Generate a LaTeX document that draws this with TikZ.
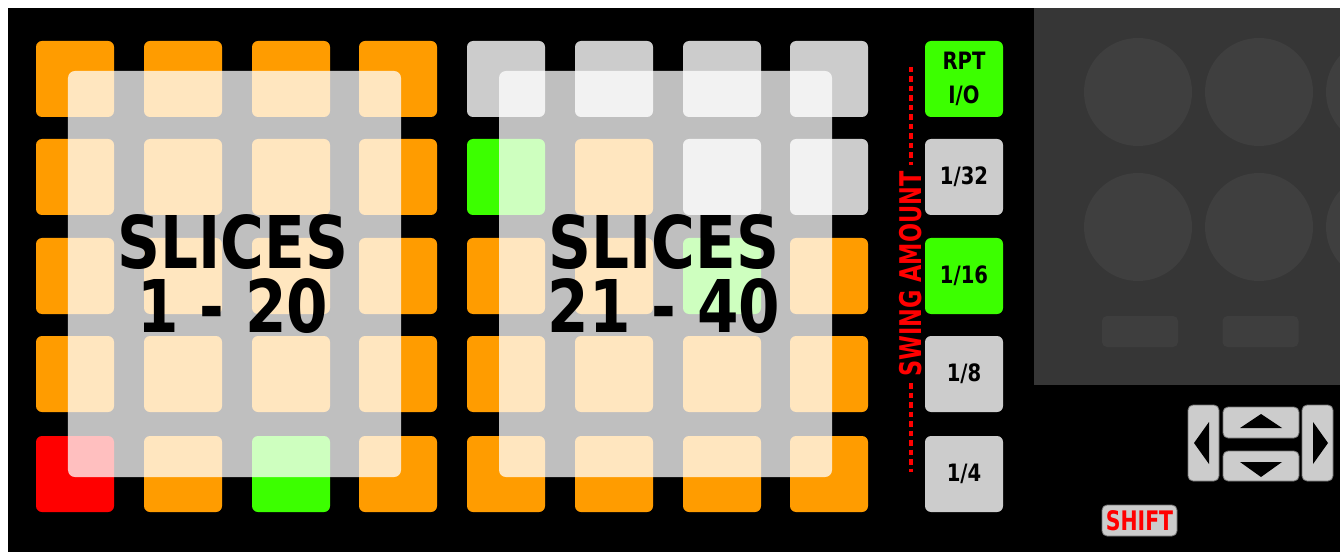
\documentclass[tikz,border=0pt]{standalone}
\usepackage{fontspec}
\newfontfamily\slicesfont{DejaVu Sans}[FakeStretch=0.82]
\newfontfamily\btnfont{DejaVu Sans}[FakeStretch=0.82]
\newfontfamily\shiftfont{DejaVu Sans}[FakeStretch=0.76]
\newfontfamily\swingfont{DejaVu Sans}[FakeStretch=0.75]
\definecolor{padorange}{HTML}{FF9C00}
\definecolor{padgreen}{HTML}{3CFF00}
\definecolor{padred}{HTML}{FF0000}
\definecolor{padgray}{HTML}{CCCCCC}
\definecolor{panelgray}{HTML}{363636}
\definecolor{knobgray}{HTML}{3F3F3F}
\definecolor{slotgray}{HTML}{3E3E3E}
\definecolor{swingred}{HTML}{FF0000}
\tikzset{
  pad/.style={rounded corners=6bp, minimum width=78bp, minimum height=76bp, inner sep=0pt, fill=#1},
  overlaybox/.style={rounded corners=7bp, minimum width=333bp, minimum height=406bp, inner sep=0pt, fill=white, fill opacity=0.75},
  slices/.style={anchor=base, inner sep=0pt, align=center, font=\slicesfont\bfseries\fontsize{73}{64}\selectfont},
  btnlabel/.style={font=\btnfont\bfseries\fontsize{24}{34}\selectfont, align=center, text=black},
  navbtn/.style={rounded corners=5bp, fill=padgray, draw=black!55, line width=0.8bp, inner sep=0pt},
  knob/.style={circle, fill=knobgray, minimum size=108bp, inner sep=0pt},
  slot/.style={rounded corners=5bp, fill=slotgray, minimum width=76bp, minimum height=31bp, inner sep=0pt},
  swingdash/.style={swingred, line width=4bp, dash pattern=on 5.5bp off 4bp},
}
\begin{document}
\begin{tikzpicture}[x=1bp, y=-1bp]
\useasboundingbox (0,0) rectangle (1340,552);
\fill[white] (0,0) rectangle (1340,552);
\fill[black] (8,8) rectangle (1340,552);

% dark panel with knobs
\fill[panelgray] (1034,8) rectangle (1340,385);
\begin{scope}
  \clip (1034,8) rectangle (1340,385);
  \node[knob] (k11) at (1138,92) {};
  \node[knob] (k12) at (1259,92) {};
  \node[knob] (k13) at (1380,92) {};
  \node[knob] (k21) at (1138,227) {};
  \node[knob] (k22) at (1259,227) {};
  \node[knob] (k23) at (1380,227) {};
\end{scope}
\node[slot] (slot1) at (1140,331.5) {};
\node[slot] (slot2) at (1260.5,331.5) {};

% left pad grid
\foreach \c [count=\k from 0] in {padorange,padorange,padorange,padorange,
  padorange,padorange,padorange,padorange,
  padorange,padorange,padorange,padorange,
  padorange,padorange,padorange,padorange,
  padred,padorange,padgreen,padorange} {
  \pgfmathtruncatemacro\rr{int(\k/4)}
  \pgfmathtruncatemacro\cc{mod(\k,4)}
  \pgfmathsetmacro\px{{75,183,291,398}[\cc]}
  \pgfmathsetmacro\py{{79,177,276,374,474}[\rr]}
  \node[pad=\c] (L-\rr-\cc) at (\px,\py) {};
}
% right pad grid
\foreach \c [count=\k from 0] in {padgray,padgray,padgray,padgray,
  padgreen,padorange,padgray,padgray,
  padorange,padorange,padgreen,padorange,
  padorange,padorange,padorange,padorange,
  padorange,padorange,padorange,padorange} {
  \pgfmathtruncatemacro\rr{int(\k/4)}
  \pgfmathtruncatemacro\cc{mod(\k,4)}
  \pgfmathsetmacro\px{{506,614,722,829}[\cc]}
  \pgfmathsetmacro\py{{79,177,276,374,474}[\rr]}
  \node[pad=\c] (R-\rr-\cc) at (\px,\py) {};
}

% overlays
\node[overlaybox] (ovL) at (234.5,274) {};
\node[overlaybox] (ovR) at (665.5,274) {};
\node[slices] (slA) at (233,332) {SLICES\\1 - 20};
\node[slices] (slB) at (664,332) {SLICES\\21 - 40};

% side buttons
\node[pad=padgreen, btnlabel] (rpt) at (964,79) {RPT\\I/O};
\node[pad=padgray, btnlabel] (b32) at (964,177) {1/32};
\node[pad=padgreen, btnlabel] (b16) at (964,276) {1/16};
\node[pad=padgray, btnlabel] (b8) at (964,374) {1/8};
\node[pad=padgray, btnlabel] (b4) at (964,474) {1/4};

% swing amount
\node[rotate=90, inner sep=0pt, text=swingred, font=\swingfont\bfseries\fontsize{30}{30}\selectfont] (swing) at (911,274) {SWING AMOUNT};
\coordinate (dtop) at (911,67);
\coordinate (dbot) at (911,472);
\draw[swingdash] (dtop) -- (911,165);
\draw[swingdash] (911,383) -- (dbot);

% navigation
\node[navbtn, minimum width=31bp, minimum height=76bp] (navL) at (1203.5,443) {};
\node[navbtn, minimum width=76bp, minimum height=31bp] (navU) at (1261,422.5) {};
\node[navbtn, minimum width=76bp, minimum height=30bp] (navD) at (1261,466) {};
\node[navbtn, minimum width=31bp, minimum height=76bp] (navR) at (1317.5,443) {};
\fill[black] (1194,443) -- (1209,422) -- (1209,464) -- cycle;
\fill[black] (1261,414) -- (1240,428) -- (1282,428) -- cycle;
\fill[black] (1261,477) -- (1240,462) -- (1282,462) -- cycle;
\fill[black] (1328,443) -- (1313,422) -- (1313,464) -- cycle;

% shift
\node[navbtn, minimum width=75bp, minimum height=31bp, text=swingred, font=\shiftfont\bfseries\fontsize{27}{27}\selectfont] (shift) at (1139.5,520.5) {SHIFT};
\end{tikzpicture}
\end{document}
